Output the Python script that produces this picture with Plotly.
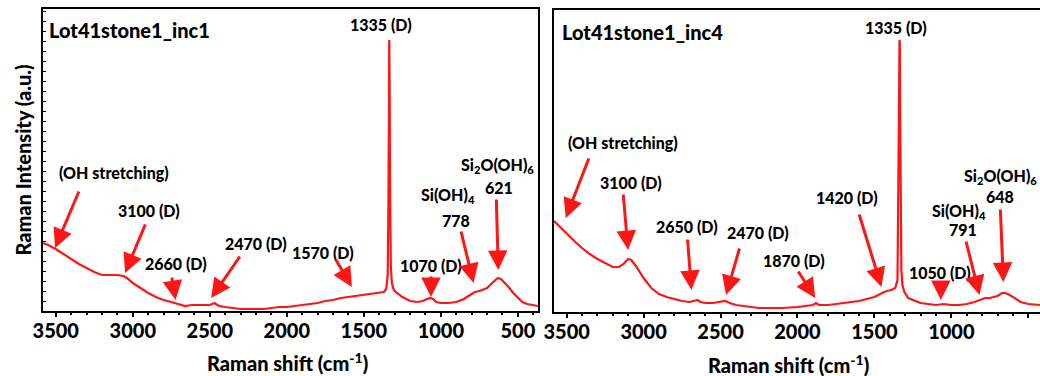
import plotly.graph_objects as go

RED = "#ff1515"
FONT = "Lato"
WEIGHT = 900

# ---------------- data: left spectrum (Lot41stone1_inc1) ----------------
shift_inc1 = [3585, 3550, 3500, 3450, 3400, 3350, 3300, 3250, 3200, 3150, 3100, 3060, 3030,
              3000, 2950, 2900, 2850, 2800, 2750, 2700, 2660, 2620, 2580, 2540, 2500, 2470,
              2440, 2400, 2350, 2300, 2250, 2200, 2150, 2100, 2050, 2000, 1950, 1900, 1850,
              1800, 1750, 1700, 1650, 1600, 1570, 1530, 1500, 1450, 1400, 1370, 1355, 1345,
              1340, 1337, 1335, 1333, 1330, 1325, 1318, 1310, 1300, 1275, 1250, 1200, 1150,
              1120, 1090, 1070, 1050, 1030, 1000, 950, 900, 850, 800, 778, 750, 700, 660,
              630, 610, 590, 560, 530, 500, 470, 440, 410, 370]
int_inc1 = [68, 66, 62, 57, 52, 47, 43, 39, 36, 36, 36, 35, 32,
            28, 23, 18, 14, 11, 9, 7, 5, 6, 6, 6, 6, 8,
            5, 4, 3, 2, 2, 2, 2, 3, 4, 4, 5, 6, 7,
            8, 10, 11, 13, 14, 15, 16, 16, 17, 18, 19, 22, 36,
            111, 221, 271, 231, 131, 46, 28, 23, 20, 17, 14, 10, 9,
            10, 12, 13, 12, 9, 8, 8, 9, 12, 17, 19, 20, 23, 29,
            33, 32, 29, 24, 18, 13, 9, 7, 6, 5]

# ---------------- data: right spectrum (Lot41stone1_inc4) ----------------
shift_inc4 = [3582, 3550, 3500, 3450, 3400, 3350, 3300, 3250, 3200, 3160, 3130, 3100, 3080,
              3050, 3000, 2950, 2900, 2850, 2800, 2750, 2700, 2660, 2650, 2630, 2600, 2550,
              2500, 2470, 2440, 2400, 2350, 2300, 2250, 2200, 2100, 2000, 1950, 1900, 1880,
              1860, 1800, 1700, 1600, 1550, 1500, 1450, 1420, 1390, 1365, 1350, 1344, 1340,
              1337, 1335, 1333, 1330, 1325, 1318, 1305, 1280, 1250, 1200, 1150, 1100, 1050,
              1000, 950, 900, 850, 800, 780, 750, 700, 670, 650, 620, 590, 550, 500, 423]
int_inc4 = [91, 86, 79, 71, 64, 58, 53, 49, 45, 45, 48, 53, 52,
            46, 34, 24, 18, 15, 13, 11, 10, 11, 12, 10, 9, 9,
            10, 11, 9, 7, 6, 5, 4, 4, 4, 5, 6, 7, 9,
            7, 7, 9, 11, 13, 15, 19, 21, 22, 24, 32, 112, 212,
            272, 270, 202, 112, 42, 27, 20, 14, 12, 9, 8, 7, 8,
            7, 7, 8, 10, 13, 14, 14, 16, 19, 19, 17, 14, 10, 8, 7]

# ---------------- annotations (label text, text position, arrow tail, arrow tip) ----------------
labels_inc1 = [
    ("(OH stretching)", 3121, 139),
    ("3100 (D)", 2896, 101),
    ("2660 (D)", 2722, 48),
    ("2470 (D)", 2202, 68),
    ("1570 (D)", 1765, 59),
    ("1335 (D)", 1386, 286),
    ("1070 (D)", 1064, 46),
    ("Si(OH)<sub>4</sub>", 955, 116),
    ("778", 904, 91),
    ("Si<sub>2</sub>O(OH)<sub>6</sub>", 634, 146),
    ("621", 621, 124),
]
arrows_inc1 = [  # (tail_x, tail_y, tip_x, tip_y)
    (3346, 121, 3505, 63),
    (2915, 88, 3050, 38),
    (2748, 35, 2722, 11),
    (2298, 56, 2491, 13),
    (1688, 53, 1578, 24),
    (1064, 36, 1064, 14),
    (871, 81, 788, 28),
    (640, 113, 627, 41),
]
labels_inc4 = [
    ("(OH stretching)", 3133, 169),
    ("3100 (D)", 3082, 129),
    ("2650 (D)", 2721, 85),
    ("2470 (D)", 2258, 79),
    ("1870 (D)", 2020, 52),
    ("1420 (D)", 1679, 114),
    ("1335 (D)", 1357, 284),
    ("1050 (D)", 1074, 40),
    ("Si(OH)<sub>4</sub>", 952, 100),
    ("791", 926, 82),
    ("Si<sub>2</sub>O(OH)<sub>6</sub>", 682, 135),
    ("648", 682, 115),
]
arrows_inc4 = [
    (3352, 155, 3506, 94),
    (3133, 119, 3101, 62),
    (2715, 74, 2689, 22),
    (2374, 65, 2464, 17),
    (2001, 42, 1885, 14),
    (1602, 99, 1454, 25),
    (1068, 32, 1068, 12),
    (907, 72, 817, 17),
    (682, 104, 662, 30),
]
titles = ["Lot41stone1_inc1", "Lot41stone1_inc4"]
x_tickvals = [3500, 3000, 2500, 2000, 1500, 1000, 500]

W, H = 1040, 376

fig = go.Figure()
fig.add_trace(go.Scatter(x=shift_inc1, y=int_inc1, mode="lines",
                         line=dict(color=RED, width=2.2), xaxis="x", yaxis="y", showlegend=False))
fig.add_trace(go.Scatter(x=shift_inc4, y=int_inc4, mode="lines",
                         line=dict(color=RED, width=2.2), xaxis="x2", yaxis="y2", showlegend=False))

tickfont = dict(family=FONT, size=20, color="black", weight=WEIGHT)
common_x = dict(tickvals=x_tickvals, ticks="outside", ticklen=4, tickwidth=1.5,
                tickcolor="black", showline=True, linecolor="black", linewidth=2,
                showgrid=False, zeroline=False, tickfont=tickfont, ticklabelstandoff=-3,
                minor=dict(dtick=100, ticks="outside", ticklen=2, tickcolor="black"))

fig.update_layout(
    width=W, height=H, margin=dict(l=0, r=0, t=0, b=0),
    plot_bgcolor="white", paper_bgcolor="white",
    xaxis=dict(domain=[33 / W, 533 / W], range=[3585, 370], mirror=True, anchor="y", **common_x),
    yaxis=dict(domain=[1 - 311 / H, 1 - 9 / H], range=[0, 302], showline=True, linecolor="black",
               linewidth=2, mirror=True, showgrid=False, zeroline=False, showticklabels=False,
               ticks="inside", ticklen=3, tickcolor="black", dtick=10, anchor="x",
               title=dict(text="Raman Intensity (a.u.)", standoff=4,
                          font=dict(family=FONT, size=20, color="black", weight=WEIGHT))),
    xaxis2=dict(domain=[549.3 / W, 1.0], range=[3582, 424], mirror=True, anchor="y2", **common_x),
    yaxis2=dict(domain=[1 - 312 / H, 1 - 10 / H], range=[0, 302], showline=True, linecolor="black",
                linewidth=2, mirror=False, showgrid=False, zeroline=False, showticklabels=False,
                ticks="", anchor="x2"),
)

annots = []
for (lab, lx, ly), xr, yr in [(l, "x", "y") for l in labels_inc1] + [(l, "x2", "y2") for l in labels_inc4]:
    annots.append(dict(text=lab, x=lx, y=ly, xref=xr, yref=yr, showarrow=False,
                       font=dict(family=FONT, size=16, color="black", weight=WEIGHT),
                       xanchor="center", yanchor="middle"))
for (tx, ty, hx, hy), xr, yr in [(a, "x", "y") for a in arrows_inc1] + [(a, "x2", "y2") for a in arrows_inc4]:
    annots.append(dict(text="", x=hx, y=hy, ax=tx, ay=ty, xref=xr, yref=yr, axref=xr, ayref=yr,
                       showarrow=True, arrowhead=2, arrowsize=1.3, arrowwidth=3, arrowcolor=RED,
                       standoff=0, startstandoff=0))
annots.append(dict(text=titles[0], x=3560, y=281, xref="x", yref="y", showarrow=False,
                   xanchor="left", yanchor="middle",
                   font=dict(family=FONT, size=20, color="black", weight=WEIGHT)))
annots.append(dict(text=titles[1], x=3545, y=280, xref="x2", yref="y2", showarrow=False,
                   xanchor="left", yanchor="middle",
                   font=dict(family=FONT, size=20, color="black", weight=WEIGHT)))
for cx, cy in [(280, 362), (786, 364)]:
    annots.append(dict(text="Raman shift (cm<sup>-1</sup>)", x=cx / W, y=1 - cy / H,
                       xref="paper", yref="paper", showarrow=False, xanchor="center", yanchor="middle",
                       font=dict(family=FONT, size=20, color="black", weight=WEIGHT)))
fig.update_layout(annotations=annots)

fig.write_html("out.html")
